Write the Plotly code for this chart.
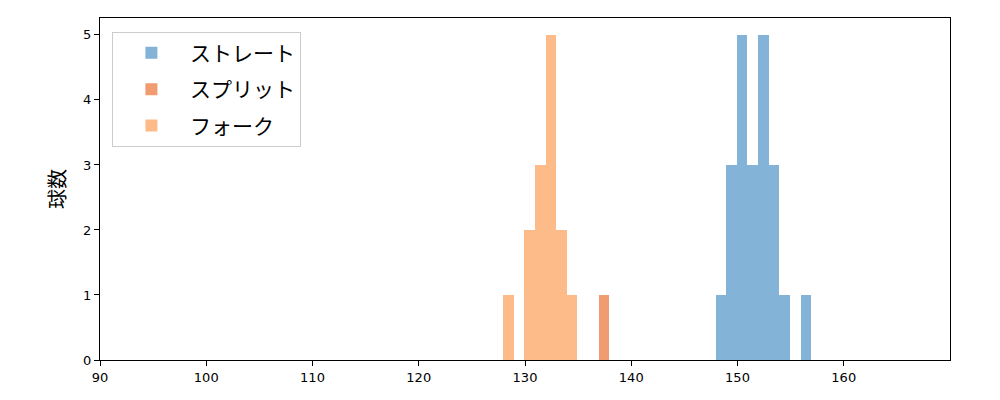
import plotly.graph_objects as go

# bin centers (1 km/h bins) and counts
straight_x = [148.5, 149.5, 150.5, 151.5, 152.5, 153.5, 154.5, 156.5]
straight_y = [1, 3, 5, 3, 5, 3, 1, 1]
split_x = [137.5]
split_y = [1]
fork_x = [128.5, 130.5, 131.5, 132.5, 133.5, 134.5]
fork_y = [1, 2, 3, 5, 2, 1]

names = ["ストレート", "スプリット", "フォーク"]
colors = ["#84b3d8", "#f19b70", "#fdbb8a"]
OFFSET = -0.07

fig = go.Figure()
for i, (nm, xs, ys, c) in enumerate(zip(names, [straight_x, split_x, fork_x],
                                        [straight_y, split_y, fork_y], colors)):
    fig.add_trace(go.Bar(x=[v + OFFSET for v in xs], y=ys, width=1.0, name=nm,
                         legendgroup=f"g{i}",
                         marker=dict(color=c, line=dict(width=0))))

font = "Noto Sans CJK JP, DejaVu Sans, sans-serif"
tickfont = dict(size=13, family="DejaVu Sans, sans-serif", color="black")
fig.update_layout(
    width=1000, height=400,
    margin=dict(l=100, r=50, t=18, b=40),
    plot_bgcolor="white", paper_bgcolor="white",
    barmode="overlay", bargap=0,
    font=dict(family=font, size=13, color="black"),
    showlegend=True,
    legend=dict(x=0.014, y=0.96, xanchor="left", yanchor="top",
                bgcolor="white", bordercolor="#cccccc", borderwidth=1,
                font=dict(size=21, family=font), itemwidth=67,
                tracegroupgap=6),
    xaxis=dict(range=[90, 170], tickmode="array",
               tickvals=[90, 100, 110, 120, 130, 140, 150, 160],
               showgrid=False, zeroline=False,
               showline=True, linecolor="black", linewidth=1.3, mirror=True,
               ticks="outside", ticklen=5, tickwidth=1.2, tickcolor="black",
               tickfont=tickfont),
    yaxis=dict(range=[0, 5.26], tickmode="array", tickvals=[0, 1, 2, 3, 4, 5],
               showgrid=False, zeroline=False,
               showline=True, linecolor="black", linewidth=1.3, mirror=True,
               ticks="outside", ticklen=5, tickwidth=1.2, tickcolor="black",
               tickfont=tickfont,
               title=dict(text="球数", font=dict(size=20), standoff=11)),
)

fig.write_html("out.html", config={"displayModeBar": False},
               post_script="document.body.style.margin='0';document.body.style.padding='0';")
